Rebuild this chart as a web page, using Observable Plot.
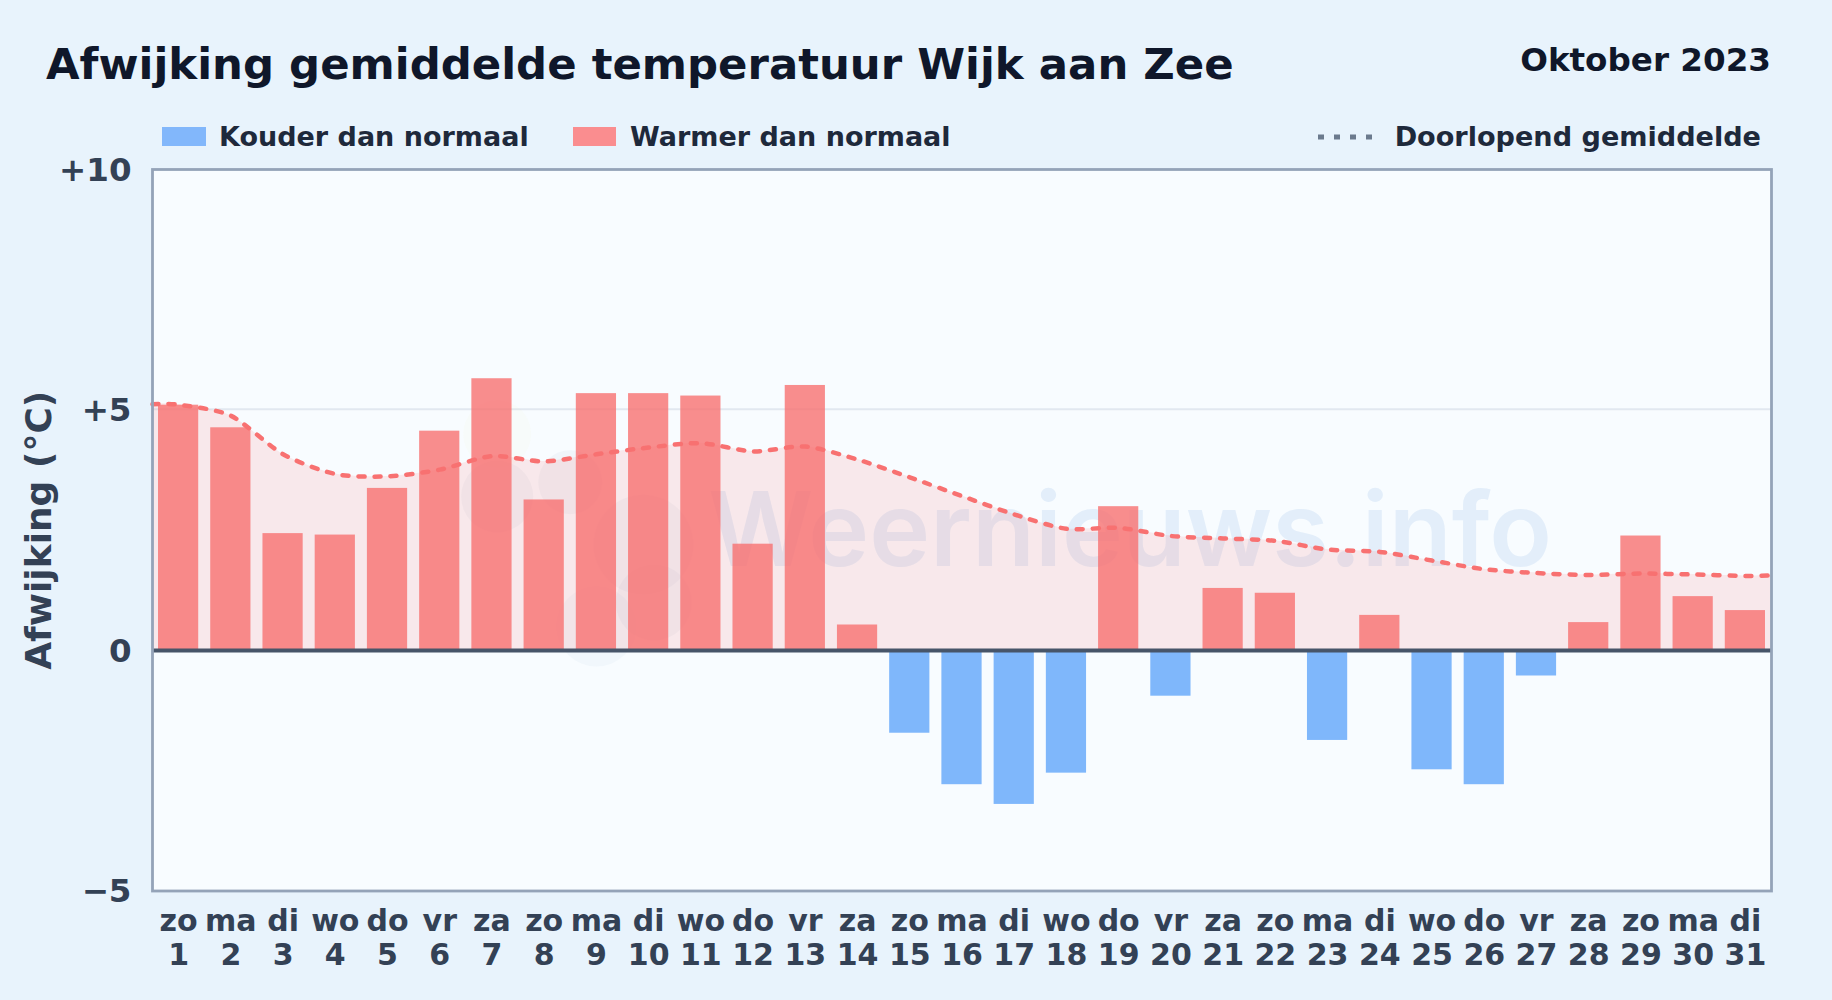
<!DOCTYPE html>
<html><head><meta charset="utf-8">
<script src="https://cdn.jsdelivr.net/npm/d3@7"></script>
<script src="https://cdn.jsdelivr.net/npm/@observablehq/plot@0.6"></script>
<style>
html,body{margin:0;padding:0;width:1832px;height:1000px;overflow:hidden;background:#e8f3fc;font-family:"DejaVu Sans",sans-serif;font-weight:700}
#wrap{position:relative;width:1832px;height:1000px}
.abs{position:absolute;white-space:nowrap;line-height:1}
#chart{position:absolute;left:0;top:150px}
#chart svg{display:block;background:transparent;font-family:"DejaVu Sans",sans-serif}
</style></head><body>
<div id="wrap">
<div class="abs" style="left:46px;top:43px;font-size:43.4px;color:#0f172a">Afwijking gemiddelde temperatuur Wijk aan Zee</div>
<div class="abs" style="right:61px;top:44px;font-size:32.6px;color:#0f172a">Oktober 2023</div>
<div class="abs" style="left:162px;top:127px;width:44px;height:19px;background:#82b7fb"></div>
<div class="abs" style="left:219px;top:123px;font-size:27px;color:#1e293b">Kouder dan normaal</div>
<div class="abs" style="left:573px;top:127px;width:43px;height:19px;background:#fa8d8f"></div>
<div class="abs" style="left:630px;top:123px;font-size:27px;color:#1e293b">Warmer dan normaal</div>
<svg class="abs" style="left:1316px;top:130px" width="60" height="14"><line x1="2" x2="58" y1="7" y2="7" stroke="#6b7a8d" stroke-width="5" stroke-dasharray="6 10"/></svg>
<div class="abs" style="right:71px;top:123px;font-size:27.1px;color:#1e293b">Doorlopend gemiddelde</div>
<div id="chart"></div>
</div>
<script>
const days = d3.range(1, 32);
const weekdays = ["zo","ma","di","wo","do","vr","za","zo","ma","di","wo","do","vr","za","zo","ma","di","wo","do","vr","za","zo","ma","di","wo","do","vr","za","zo","ma","di"];
const deviation = [5.10,4.63,2.43,2.40,3.37,4.56,5.65,3.13,5.34,5.34,5.29,2.21,5.51,0.53,-1.72,-2.79,-3.20,-2.55,2.99,-0.95,1.29,1.19,-1.87,0.73,-2.48,-2.79,-0.53,0.58,2.38,1.12,0.83];
const runningX = [0.5,...days,31.5];
const runningY = [5.12,5.11,4.88,4.08,3.67,3.62,3.76,4.04,3.93,4.08,4.22,4.31,4.14,4.24,3.97,3.60,3.21,2.83,2.53,2.55,2.38,2.33,2.28,2.10,2.05,1.87,1.69,1.61,1.57,1.60,1.58,1.55,1.56];
const yTicks = [-5,0,5,10];
const yLabels = ["\u22125","0","+5","+10"];
const logoX = [7.1,7.1,8.5,9.9,9.0,10.1];
const logoY = [4.5,3.2,3.5,2.2,0.5,1.0];
const logoR = [34,36,32,50,40,38];
const logoC = ["#f5f2b0","#8a93b8","#8a93b8","#8a93b8","#8fb0d8","#8a93b8"];
const barHalf = 0.385;
const bars = days.map((d,i)=>({x1:d-barHalf,x2:d+barHalf,v:deviation[i]}));
const running = runningX.map((x,i)=>({x,y:runningY[i]}));
const logo = logoX.map((x,i)=>({x,y:logoY[i],r:logoR[i],c:logoC[i]}));
const curve = "cardinal";
const tension = 0.2;
const plot = Plot.plot({
  width:1832, height:830,
  marginLeft:152, marginRight:61, marginTop:19, marginBottom:89.5,
  x:{domain:[0.5,31.5]},
  y:{domain:[-5,10]},
  r:{type:"identity"},
  marks:[
    Plot.frame({fill:"#f8fcff",stroke:null}),
    Plot.ruleY([5],{stroke:"#e2e8f0",strokeWidth:2,dy:-0.7}),
    Plot.dot(logo,{x:"x",y:"y",r:"r",fill:"c",fillOpacity:0.065}),
    Plot.text(["Weernieuws.info"],{x:[19.22],y:[2.45],fill:"#c6dcf2",fillOpacity:0.42,fontSize:103,fontFamily:"Inter",fontWeight:600,textAnchor:"middle",lineAnchor:"middle"}),
    Plot.areaY(running,{x:"x",y1:0,y2:"y",curve,tension,fill:"#f87171",fillOpacity:0.14}),
    Plot.rectY(bars,{x1:"x1",x2:"x2",y1:0,y2:"v",fill:d=>d.v<0?"#60a5fa":"#f87171",fillOpacity:0.8}),
    Plot.ruleY([0],{stroke:"#475569",strokeWidth:4}),
    Plot.line(running,{x:"x",y:"y",curve,tension,stroke:"#f87171",strokeWidth:4.5,strokeDasharray:"6 10",strokeLinecap:"round"}),
    Plot.frame({stroke:"#94a3b8",strokeWidth:2.8,fill:"none"}),
    Plot.axisY(yTicks,{tickSize:0,tickPadding:21,fontSize:32.5,fontWeight:700,fill:"#334155",dy:1,tickFormat:d=>yLabels[yTicks.indexOf(d)],label:null}),
    Plot.axisX(days,{tickSize:0,tickPadding:16,fontSize:30,fontWeight:700,fill:"#334155",lineHeight:1.13,tickFormat:d=>`${weekdays[d-1]}\n${d}`,label:null}),
    Plot.text(["Afwijking (\u00b0C)"],{x:[0.5],y:[2.5],dx:-113.5,rotate:-90,fontSize:36,fontWeight:700,fill:"#334155",textAnchor:"middle",lineAnchor:"middle",clip:false})
  ]
});
document.getElementById("chart").append(plot);
</script>
</body></html>
